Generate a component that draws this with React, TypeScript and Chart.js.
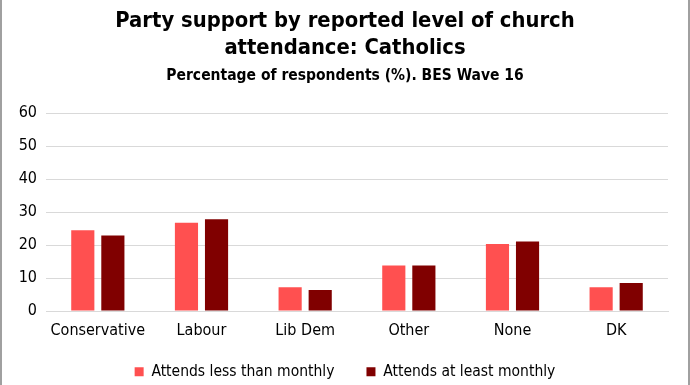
import React, { useEffect, useRef } from "react";
import { Chart, registerables } from "chart.js";

Chart.register(...registerables);

const categories = ["Conservative", "Labour", "Lib Dem", "Other", "None", "DK"];
const lessThanMonthly = [24.5, 26.8, 7.2, 13.8, 20.3, 7.2];
const atLeastMonthly = [22.9, 27.8, 6.4, 13.8, 21.1, 8.5];
const seriesNames = ["Attends less than monthly", "Attends at least monthly"];
const titleLines = ["Party support by reported level of church", "attendance: Catholics"];
const subtitleText = "Percentage of respondents (%). BES Wave 16";

const FONT = "'Liberation Sans Narrow', 'DejaVu Sans Condensed', 'Liberation Sans', sans-serif";

// lets the x-axis labels spill below the (shortened) axis box without being clipped
const extendXLabelArea = {
  id: "extendXLabelArea",
  afterLayout(chart: any) {
    const x = chart.scales.x;
    if (x) x.bottom = x.top + 40;
  },
};

export default function App() {
  const ref = useRef<HTMLCanvasElement | null>(null);
  useEffect(() => {
    if (!ref.current) return;
    const chart = new Chart(ref.current, {
      type: "bar",
      data: {
        labels: categories,
        datasets: [
          {
            label: seriesNames[0],
            data: lessThanMonthly,
            backgroundColor: "#FF5050",
            categoryPercentage: 0.58,
            barPercentage: 0.77,
            yAxisID: "y",
          },
          {
            label: seriesNames[1],
            data: atLeastMonthly,
            backgroundColor: "#800000",
            categoryPercentage: 0.58,
            barPercentage: 0.77,
            yAxisID: "y",
          },
        ],
      },
      plugins: [extendXLabelArea],
      options: {
        animation: false,
        responsive: false,
        maintainAspectRatio: false,
        layout: { padding: { left: 14, right: 14, top: 0, bottom: 0 } },
        plugins: {
          title: {
            display: true,
            text: titleLines,
            color: "#000",
            font: { family: FONT, size: 21.8, weight: "bold", lineHeight: 1.23 },
            padding: { top: 8, bottom: 2 },
          },
          subtitle: {
            display: true,
            text: subtitleText,
            color: "#000",
            font: { family: FONT, size: 15.5, weight: "bold", lineHeight: 1.2 },
            padding: { top: 3, bottom: 28 },
          },
          legend: {
            position: "bottom",
            maxHeight: 53,
            labels: {
              color: "#000",
              font: { family: FONT, size: 15.5, lineHeight: 1 },
              boxWidth: 9,
              boxHeight: 9,
              padding: 32,
            },
          },
          tooltip: { enabled: false },
        },
        scales: {
          x: {
            grid: { display: false, drawTicks: false },
            border: { display: true, color: "#d9d9d9" },
            ticks: { color: "#000", font: { family: FONT, size: 16 }, padding: 10 },
            afterFit: (scale: any) => {
              scale.height = 21;
            },
          },
          y: {
            position: "left",
            min: 0,
            max: 60,
            ticks: { stepSize: 10, color: "#000", font: { family: FONT, size: 16 }, padding: 9 },
            grid: { color: "#d9d9d9", drawTicks: false },
            border: { display: false },
            afterFit: (scale: any) => {
              scale.width = 30;
            },
          },
          yRight: {
            type: "linear",
            position: "right",
            display: true,
            ticks: { display: false },
            grid: { display: false, drawTicks: false },
            border: { display: false },
            afterFit: (scale: any) => {
              scale.width = 6;
            },
          },
        },
      },
    });
    return () => chart.destroy();
  }, []);
  return (
    <div
      style={{
        position: "fixed",
        left: 0,
        top: 0,
        width: 690,
        height: 385,
        background: "#fff",
        boxSizing: "border-box",
        borderLeft: "2px solid #a0a0a0",
        borderRight: "2px solid #a0a0a0",
      }}
    >
      <canvas ref={ref} width={686} height={385} style={{ display: "block" }} />
    </div>
  );
}
